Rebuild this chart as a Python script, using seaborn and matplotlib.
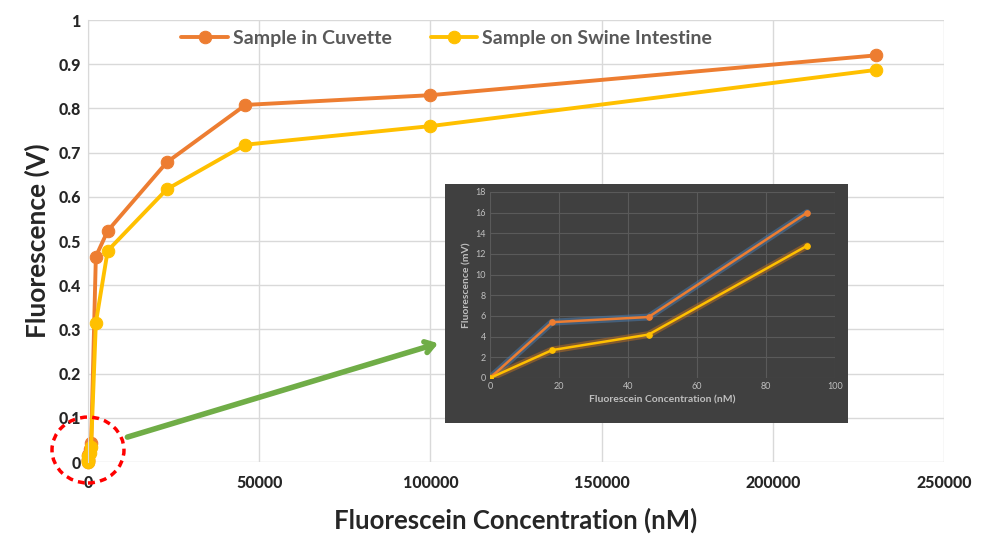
import numpy as np
import pandas as pd
import matplotlib
matplotlib.use("Agg")
import matplotlib.pyplot as plt
import seaborn as sns
from matplotlib.patches import Rectangle, Ellipse

# data
conc_nM = [0, 18, 46, 92, 460, 920, 2300, 5750, 23000, 46000, 100000, 230000]
cuvette_V = [0, 0.0054, 0.0059, 0.016, 0.03, 0.042, 0.465, 0.523, 0.678, 0.808, 0.830, 0.920]
swine_V = [0, 0.0027, 0.0042, 0.0128, 0.02, 0.035, 0.315, 0.478, 0.617, 0.718, 0.760, 0.887]

# inset (low concentration, mV)
inset_conc = [0, 18, 46, 92]
inset_cuvette_mV = [0, 5.4, 5.9, 16.0]
inset_swine_mV = [0, 2.7, 4.2, 12.8]

xticks = [0, 50000, 100000, 150000, 200000, 250000]
yticks = [0, 0.1, 0.2, 0.3, 0.4, 0.5, 0.6, 0.7, 0.8, 0.9, 1]
ytick_labels = ["0", "0.1", "0.2", "0.3", "0.4", "0.5", "0.6", "0.7", "0.8", "0.9", "1"]

orange = "#ED7D31"
yellow = "#FFC000"

sns.set_style("white")
plt.rcParams['font.family'] = ['Lato', 'DejaVu Sans']

fig = plt.figure(figsize=(9.82, 5.36), dpi=100)
ax = fig.add_axes([0.0896, 0.138, 0.8717, 0.8246])

df = pd.DataFrame({'conc': conc_nM, 'cuvette': cuvette_V, 'swine': swine_V})
sns.lineplot(data=df, x='conc', y='cuvette', ax=ax, color=orange, lw=2.8, clip_on=False,
             marker='o', markersize=9, markeredgecolor=orange, label='Sample in Cuvette')
sns.lineplot(data=df, x='conc', y='swine', ax=ax, color=yellow, lw=2.8, clip_on=False,
             marker='o', markersize=9, markeredgecolor=yellow, label='Sample on Swine Intestine')

ax.set_xlim(0, 250000)
ax.set_ylim(0, 1)
ax.set_xticks(xticks)
ax.set_xticklabels([str(t) for t in xticks], fontweight='black', fontsize=11.5)
ax.set_yticks(yticks)
ax.set_yticklabels(ytick_labels, fontweight='black', fontsize=11.5)
ax.tick_params(axis='y', length=0, pad=5)
ax.tick_params(axis='x', length=0, pad=9)
ax.grid(True, color='#d9d9d9', lw=1)
ax.set_axisbelow(True)
for s in ['top', 'right', 'bottom']:
    ax.spines[s].set_visible(False)
ax.spines['left'].set_color('#d9d9d9')
ax.set_xlabel('Fluorescein Concentration (nM)', fontsize=18.5, fontweight='bold', labelpad=12)
ax.set_ylabel('Fluorescence (V)', fontsize=19, fontweight='bold', labelpad=6)

leg = ax.legend(loc='center', bbox_to_anchor=(0.419, 0.958), ncol=2, frameon=False,
                fontsize=14, handlelength=2.4, columnspacing=2.0, handletextpad=0.25)
for t in leg.get_texts():
    t.set_color('#595959')
    t.set_fontweight('bold')

# dark panel behind the inset
fig.patches.append(Rectangle((0.4532, 0.2108), 0.4104, 0.446, transform=fig.transFigure,
                             facecolor='#404040', edgecolor='none', zorder=2))

ins = fig.add_axes([0.499, 0.2948, 0.351, 0.347], zorder=3)
ins.set_facecolor('#404040')
di = pd.DataFrame({'conc': inset_conc, 'cuvette': inset_cuvette_mV, 'swine': inset_swine_mV})
# glow underneath
sns.lineplot(data=di, x='conc', y='cuvette', ax=ins, color='#4a7fb5', lw=5, alpha=0.5)
sns.lineplot(data=di, x='conc', y='swine', ax=ins, color='#c07020', lw=5, alpha=0.5)
sns.lineplot(data=di, x='conc', y='cuvette', ax=ins, color=orange, lw=1.8,
             marker='o', markersize=4, markeredgecolor=orange)
sns.lineplot(data=di, x='conc', y='swine', ax=ins, color=yellow, lw=1.8,
             marker='o', markersize=4, markeredgecolor=yellow)
ins.set_xlim(0, 100)
ins.set_ylim(0, 18)
ins.set_xticks([0, 20, 40, 60, 80, 100])
ins.set_yticks([0, 2, 4, 6, 8, 10, 12, 14, 16, 18])
ins.tick_params(length=0, labelsize=6.5, colors='#bfbfbf', pad=3)
ins.grid(True, color='#5a5a5a', lw=0.8)
ins.set_axisbelow(True)
for s in ins.spines.values():
    s.set_visible(False)
ins.set_xlabel('Fluorescein Concentration (nM)', fontsize=7.5, color='#bfbfbf', fontweight='bold', labelpad=3)
ins.set_ylabel('Fluorescence (mV)', fontsize=7.5, color='#bfbfbf', fontweight='bold', labelpad=3)

# red dashed circle and green arrow
fig.patches.append(Ellipse((0.0896, 0.1604), 0.0733, 0.123, transform=fig.transFigure,
                           fill=False, edgecolor='#FF0000', lw=2.5, ls=(0, (2, 1.5)), zorder=5))
ax.annotate('', xy=(0.449, 0.361), xycoords='figure fraction',
            xytext=(0.127, 0.183), textcoords='figure fraction',
            arrowprops=dict(arrowstyle='->,head_length=0.6,head_width=0.4', color='#70AD47', lw=4))

plt.savefig('out.png', dpi=100)
